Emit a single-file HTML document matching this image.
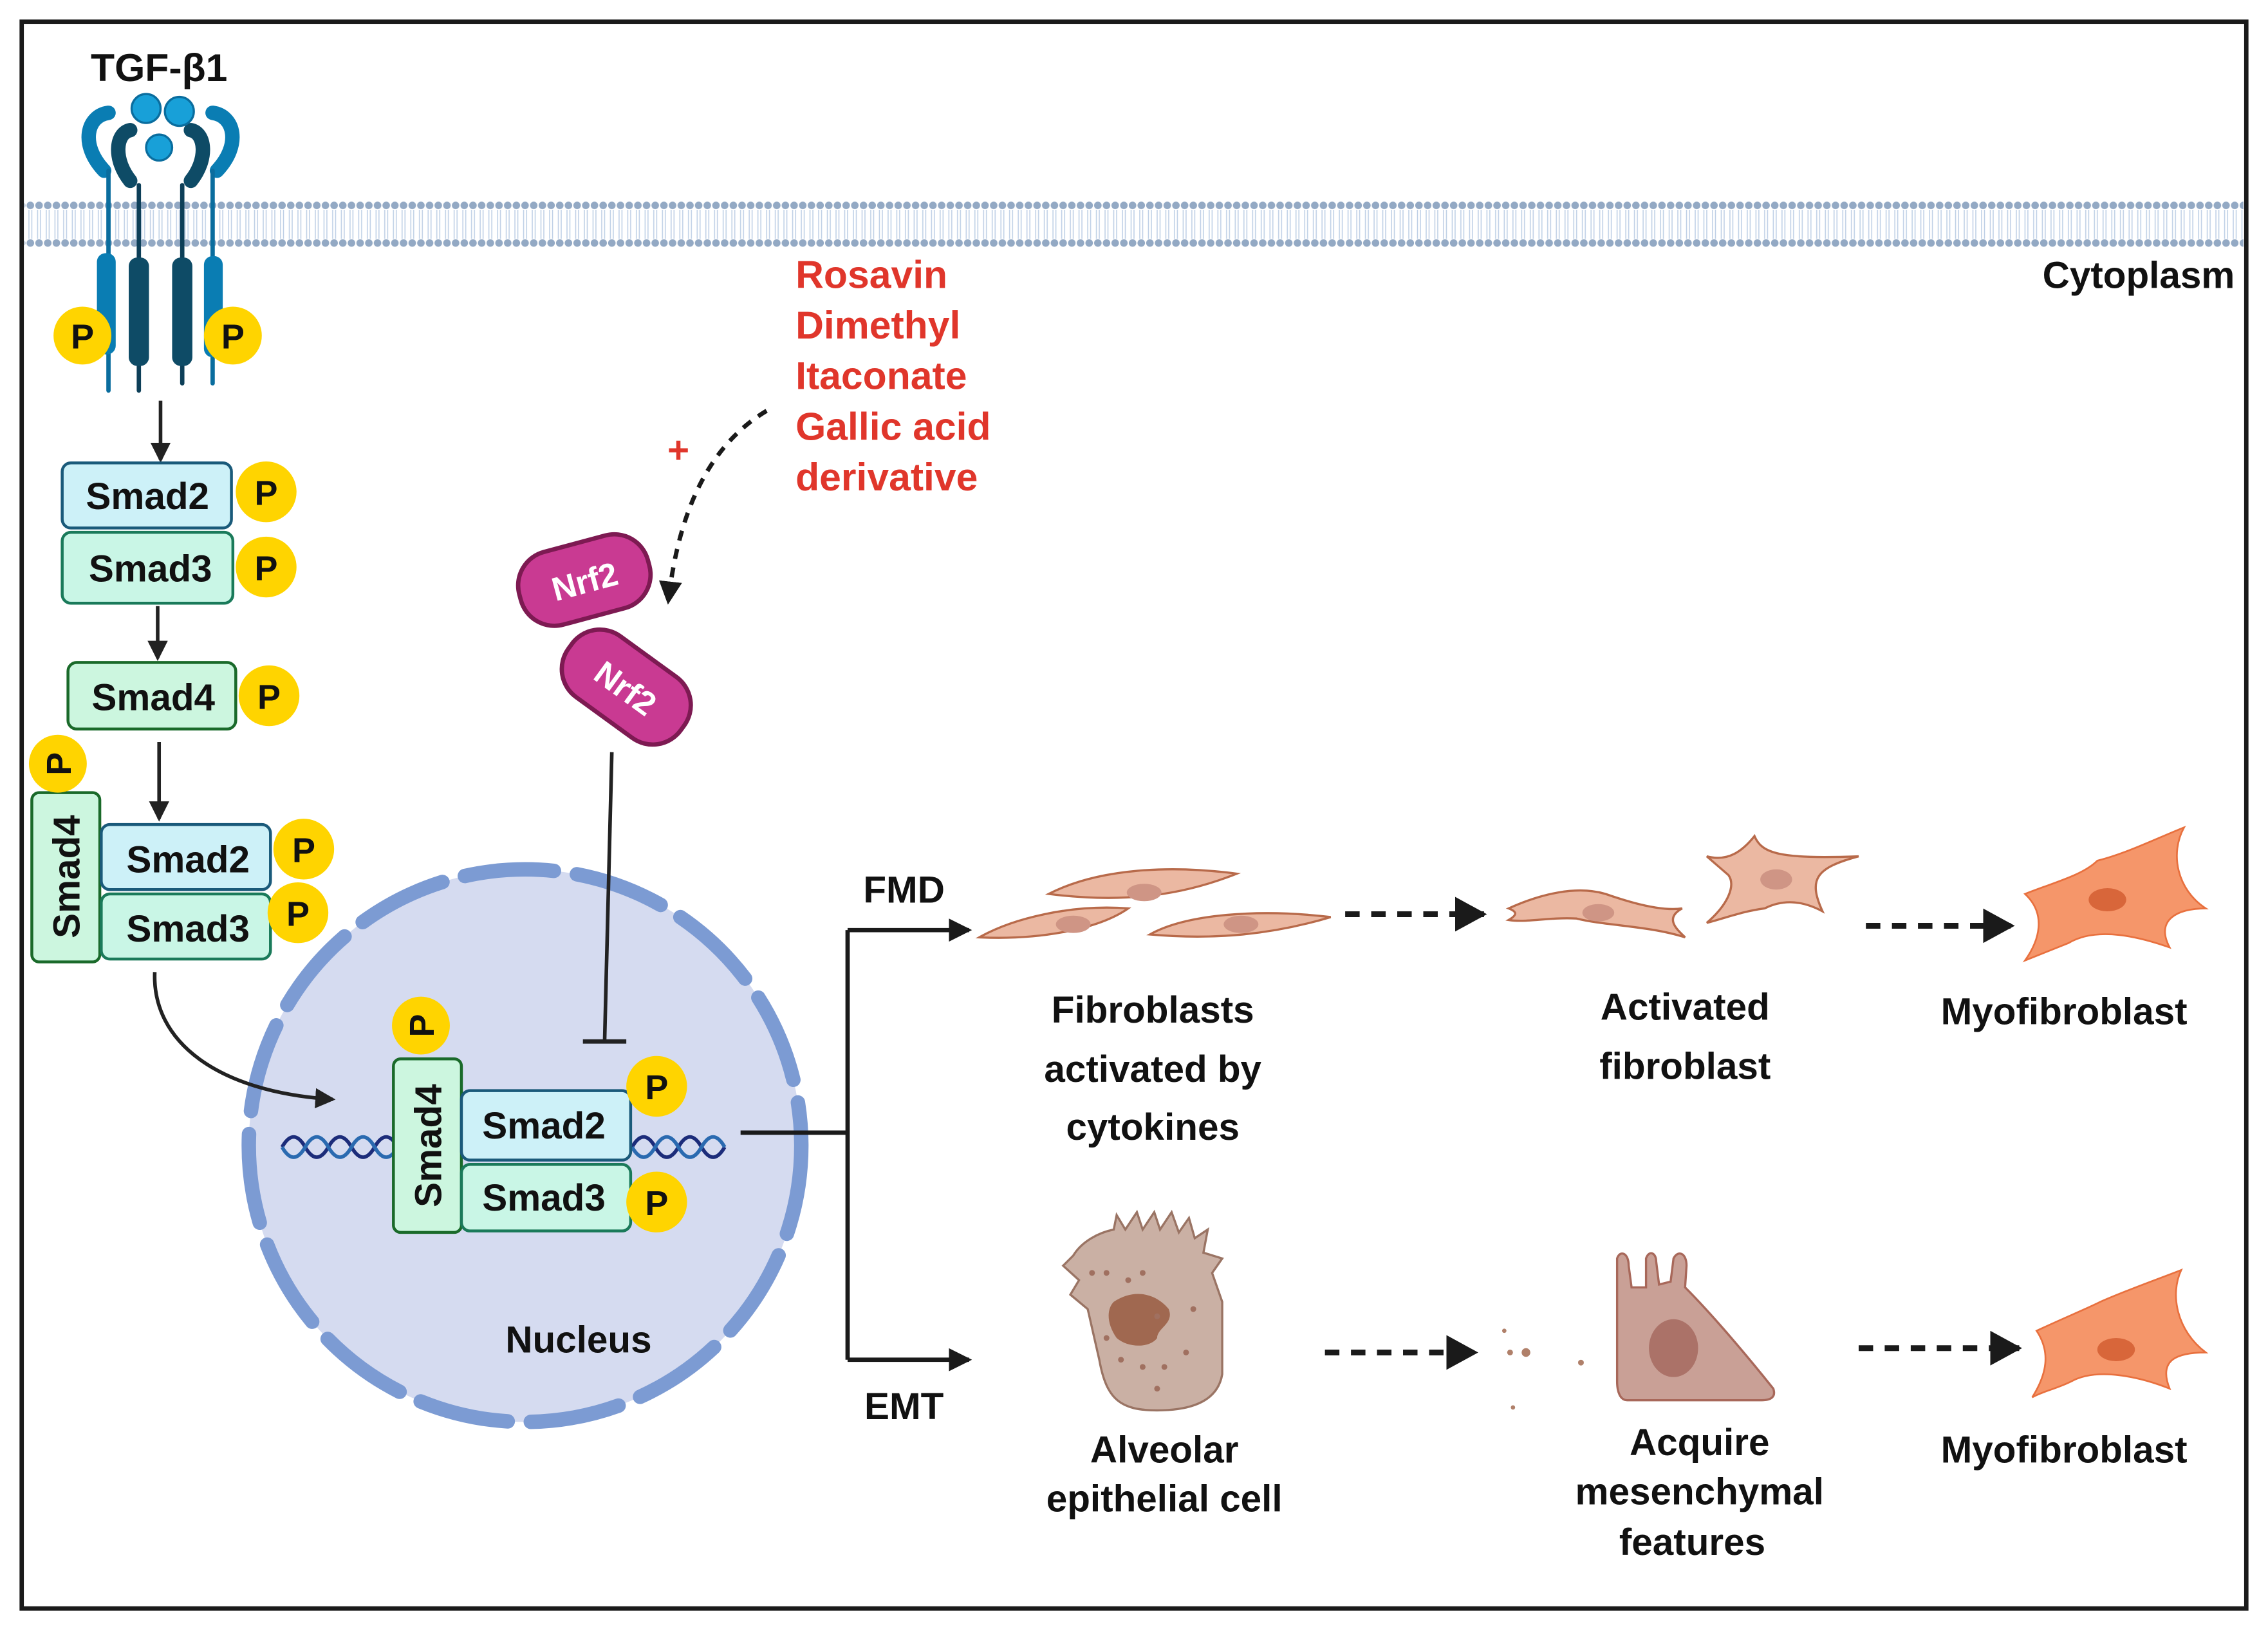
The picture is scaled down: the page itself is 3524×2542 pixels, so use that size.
<!DOCTYPE html>
<html><head><meta charset="utf-8"><style>
html,body{margin:0;padding:0;background:#fff;}
svg{display:block;}
text{font-family:"Liberation Sans",sans-serif;font-weight:bold;}
</style></head><body>
<svg width="3524" height="2542" viewBox="0 0 1568 1131" preserveAspectRatio="none" xmlns="http://www.w3.org/2000/svg">
<defs>
<pattern id="mem" x="0" y="139" width="6" height="32" patternUnits="userSpaceOnUse">
<circle cx="3" cy="3" r="2.6" fill="#93a9c4"/>
<circle cx="3" cy="29" r="2.6" fill="#93a9c4"/>
<path d="M2 6 L2 26 M4 6 L4 26" stroke="#bfd0e6" stroke-width="0.7"/>
</pattern>
<marker id="ah" markerWidth="14" markerHeight="14" refX="12" refY="7" orient="auto" markerUnits="userSpaceOnUse"><path d="M0 0 L14 7 L0 14 Z" fill="#222"/></marker>
<marker id="ahb" markerWidth="22" markerHeight="24" refX="20" refY="12" orient="auto" markerUnits="userSpaceOnUse"><path d="M0 0 L22 12 L0 24 Z" fill="#1a1a1a"/></marker>
<marker id="ahm" markerWidth="16" markerHeight="16" refX="14" refY="8" orient="auto" markerUnits="userSpaceOnUse"><path d="M0 0 L16 8 L0 16 Z" fill="#1a1a1a"/></marker>
</defs>
<rect x="0" y="0" width="1568" height="1131" fill="#fff"/>
<rect x="15" y="15" width="1538" height="1097" fill="none" stroke="#1a1a1a" stroke-width="3"/>
<!-- membrane -->
<rect x="17" y="139" width="1534" height="32" fill="url(#mem)"/>
<text x="1545" y="199" font-size="26" text-anchor="end" fill="#111">Cytoplasm</text>
<!-- receptor -->
<text x="110" y="56" font-size="27" text-anchor="middle" fill="#111">TGF-β1</text>
<g stroke-linecap="round" fill="none">
<path d="M72 118 C55 100 60 80 75 78" stroke="#0a7db3" stroke-width="10"/>
<path d="M150 118 C167 100 162 80 147 78" stroke="#0a7db3" stroke-width="10"/>
<path d="M90 125 C78 110 80 92 90 90" stroke="#0e4b66" stroke-width="10"/>
<path d="M132 125 C144 110 142 92 132 90" stroke="#0e4b66" stroke-width="10"/>
<path d="M75 118 L75 270" stroke="#0a6d9e" stroke-width="3"/>
<path d="M147 118 L147 265" stroke="#0a6d9e" stroke-width="3"/>
<path d="M96 128 L96 270" stroke="#0d3f58" stroke-width="3"/>
<path d="M126 128 L126 265" stroke="#0d3f58" stroke-width="3"/>
</g>
<rect x="67" y="175" width="13" height="70" rx="6" fill="#0a7db3"/>
<rect x="141" y="177" width="13" height="70" rx="6" fill="#0a7db3"/>
<rect x="89" y="178" width="14" height="75" rx="6" fill="#0e4b66"/>
<rect x="119" y="178" width="14" height="75" rx="6" fill="#0e4b66"/>
<circle cx="101" cy="75" r="10" fill="#18a0d8" stroke="#0a6d9e" stroke-width="1.5"/>
<circle cx="124" cy="77" r="10" fill="#18a0d8" stroke="#0a6d9e" stroke-width="1.5"/>
<circle cx="110" cy="102" r="9" fill="#18a0d8" stroke="#0a6d9e" stroke-width="1.5"/>
<g font-size="24" text-anchor="middle" fill="#111">
<circle cx="57" cy="232" r="20" fill="#ffd400"/><text x="57" y="241">P</text>
<circle cx="161" cy="232" r="20" fill="#ffd400"/><text x="161" y="241">P</text>
</g>
<!-- smad cascade -->
<line x1="111" y1="277" x2="111" y2="318" stroke="#222" stroke-width="2.5" marker-end="url(#ah)"/>
<line x1="109" y1="419" x2="109" y2="455" stroke="#222" stroke-width="2.5" marker-end="url(#ah)"/>
<line x1="110" y1="513" x2="110" y2="566" stroke="#222" stroke-width="2.5" marker-end="url(#ah)"/>
<g font-size="26" text-anchor="middle" fill="#111">
<rect x="43" y="320" width="117" height="45" rx="6" fill="#cdf1f8" stroke="#1a5a7a" stroke-width="2"/><text x="102" y="352">Smad2</text>
<rect x="43" y="368" width="118" height="49" rx="6" fill="#c9f6e6" stroke="#1a7a5a" stroke-width="2"/><text x="104" y="402">Smad3</text>
<rect x="47" y="458" width="116" height="46" rx="6" fill="#ccf6df" stroke="#1a6a2a" stroke-width="2"/><text x="106" y="491">Smad4</text>
<rect x="22" y="548" width="47" height="117" rx="5" fill="#ccf6df" stroke="#1a6a2a" stroke-width="2"/><text transform="translate(55,606) rotate(-90)">Smad4</text>
<rect x="70" y="570" width="117" height="45" rx="6" fill="#cdf1f8" stroke="#1a5a7a" stroke-width="2"/><text x="130" y="603">Smad2</text>
<rect x="70" y="618" width="117" height="45" rx="6" fill="#c9f6e6" stroke="#1a7a5a" stroke-width="2"/><text x="130" y="651">Smad3</text>
</g>
<g font-size="24" text-anchor="middle" fill="#111">
<circle cx="184" cy="340" r="21" fill="#ffd400"/><text x="184" y="349">P</text>
<circle cx="184" cy="392" r="21" fill="#ffd400"/><text x="184" y="401">P</text>
<circle cx="186" cy="481" r="21" fill="#ffd400"/><text x="186" y="490">P</text>
<circle cx="40" cy="528" r="20" fill="#ffd400"/><text transform="translate(49,528) rotate(-90)">P</text>
<circle cx="210" cy="587" r="21" fill="#ffd400"/><text x="210" y="596">P</text>
<circle cx="206" cy="631" r="21" fill="#ffd400"/><text x="206" y="640">P</text>
</g>
<!-- nucleus -->
<circle cx="363" cy="792" r="191" fill="#d5dbf0"/>
<circle cx="363" cy="792" r="191" fill="none" stroke="#7c9bd3" stroke-width="10" stroke-dasharray="62 16" stroke-linecap="round"/>
<path d="M107 672 C105 720 150 755 230 760" fill="none" stroke="#222" stroke-width="2.5" marker-end="url(#ah)"/>
<text x="400" y="935" font-size="26" text-anchor="middle" fill="#111">Nucleus</text>
<g fill="none" stroke-width="2.5">
<path d="M195 793 q8 -14 16 0 t16 0 t16 0 t16 0 t16 0 M437 793 q8 -14 16 0 t16 0 t16 0 t16 0" stroke="#1c2c7a"/>
<path d="M195 793 q8 14 16 0 t16 0 t16 0 t16 0 t16 0 M437 793 q8 14 16 0 t16 0 t16 0 t16 0" stroke="#2a6ab0"/>
</g>
<g font-size="26" text-anchor="middle" fill="#111">
<rect x="272" y="732" width="47" height="120" rx="5" fill="#ccf6df" stroke="#1a6a2a" stroke-width="2"/><text transform="translate(305,792) rotate(-90)">Smad4</text>
<rect x="319" y="754" width="117" height="48" rx="6" fill="#cdf1f8" stroke="#1a5a7a" stroke-width="2"/><text x="376" y="787">Smad2</text>
<rect x="319" y="805" width="117" height="46" rx="6" fill="#c9f6e6" stroke="#1a7a5a" stroke-width="2"/><text x="376" y="837">Smad3</text>
</g>
<g font-size="24" text-anchor="middle" fill="#111">
<circle cx="291" cy="709" r="20" fill="#ffd400"/><text transform="translate(300,709) rotate(-90)">P</text>
<circle cx="454" cy="751" r="21" fill="#ffd400"/><text x="454" y="760">P</text>
<circle cx="454" cy="831" r="21" fill="#ffd400"/><text x="454" y="840">P</text>
</g>
<!-- Nrf2 -->
<text x="550" y="199" font-size="27" fill="#e0362b">Rosavin</text>
<text x="550" y="234" font-size="27" fill="#e0362b">Dimethyl</text>
<text x="550" y="269" font-size="27" fill="#e0362b">Itaconate</text>
<text x="550" y="304" font-size="27" fill="#e0362b">Gallic acid</text>
<text x="550" y="339" font-size="27" fill="#e0362b">derivative</text>
<text x="469" y="320" font-size="26" text-anchor="middle" fill="#e0362b" font-weight="normal">+</text>
<path d="M530 284 C495 305 470 345 462 416" fill="none" stroke="#1a1a1a" stroke-width="3" stroke-dasharray="7 6" marker-end="url(#ahm)"/>
<g transform="translate(404,401) rotate(-15)"><rect x="-46" y="-26" width="92" height="52" rx="24" fill="#c93a92" stroke="#7d1a52" stroke-width="3"/><text x="0" y="9" font-size="23" text-anchor="middle" fill="#fff">Nrf2</text></g>
<g transform="translate(433,475) rotate(36)"><rect x="-48" y="-26" width="96" height="52" rx="24" fill="#c93a92" stroke="#7d1a52" stroke-width="3"/><text x="0" y="9" font-size="23" text-anchor="middle" fill="#fff">Nrf2</text></g>
<line x1="423" y1="520" x2="418" y2="720" stroke="#222" stroke-width="2.5"/>
<line x1="403" y1="720" x2="433" y2="720" stroke="#222" stroke-width="3"/>
<!-- branch -->
<path d="M512 783 L586 783 M586 643 L586 940" stroke="#1a1a1a" stroke-width="3" fill="none"/>
<line x1="586" y1="643" x2="670" y2="643" stroke="#1a1a1a" stroke-width="3" marker-end="url(#ahm)"/>
<line x1="586" y1="940" x2="670" y2="940" stroke="#1a1a1a" stroke-width="3" marker-end="url(#ahm)"/>
<text x="625" y="624" font-size="26" text-anchor="middle" fill="#111">FMD</text>
<text x="625" y="981" font-size="26" text-anchor="middle" fill="#111">EMT</text>
<!-- dotted arrows -->
<g stroke="#1a1a1a" stroke-width="4" stroke-dasharray="10 8" fill="none">
<line x1="930" y1="632" x2="1026" y2="632" marker-end="url(#ahb)"/>
<line x1="1290" y1="640" x2="1391" y2="640" marker-end="url(#ahb)"/>
<line x1="916" y1="935" x2="1020" y2="935" marker-end="url(#ahb)"/>
<line x1="1285" y1="932" x2="1396" y2="932" marker-end="url(#ahb)"/>
</g>
<!-- fibroblasts -->
<g fill="#ebb8a2" stroke="#b86a4a" stroke-width="1.5">
<path d="M725 618 C760 600 810 598 855 604 C820 618 780 625 725 618 Z"/>
<path d="M677 648 C700 635 740 625 780 628 C760 642 720 650 677 648 Z"/>
<path d="M795 646 C820 632 870 628 920 634 C880 646 840 650 795 646 Z"/>
<path d="M1043 628 C1065 618 1090 612 1110 618 C1130 625 1150 630 1163 628 C1150 635 1160 643 1165 648 C1140 640 1110 640 1090 635 C1070 634 1055 638 1043 636 C1050 632 1048 630 1043 628 Z"/>
<path d="M1180 592 C1195 596 1205 588 1213 578 C1218 590 1230 594 1285 592 C1255 600 1250 608 1260 630 C1245 622 1232 622 1220 628 C1205 630 1195 634 1180 638 C1195 625 1200 612 1195 605 Z"/>
</g>
<g fill="#cf9585">
<ellipse cx="791" cy="617" rx="12" ry="6"/><ellipse cx="742" cy="639" rx="12" ry="6"/><ellipse cx="858" cy="639" rx="12" ry="6"/>
<ellipse cx="1105" cy="631" rx="11" ry="6"/><ellipse cx="1228" cy="608" rx="11" ry="7"/>
</g>
<!-- myofibroblasts -->
<g fill="#f5966a" stroke="#e8703e" stroke-width="1.2">
<path d="M1400 618 C1420 610 1440 605 1450 595 C1470 590 1490 580 1510 572 C1500 590 1505 615 1525 628 C1505 628 1490 636 1500 655 C1480 648 1450 640 1430 652 C1420 656 1410 660 1400 664 C1410 650 1415 632 1400 618 Z"/>
<path d="M1408 920 C1425 912 1442 905 1452 900 C1470 892 1490 885 1508 878 C1500 895 1505 920 1525 935 C1505 935 1492 940 1500 960 C1480 952 1450 945 1432 955 C1422 960 1412 962 1405 966 C1415 950 1418 935 1408 920 Z"/>
</g>
<ellipse cx="1457" cy="622" rx="13" ry="8" fill="#d8663a"/>
<ellipse cx="1463" cy="933" rx="13" ry="8" fill="#d8663a"/>
<!-- alveolar cell -->
<path d="M742 868 C748 858 760 852 770 850 L772 840 L778 850 L786 838 L790 850 L798 838 L802 850 L810 838 L815 852 L822 842 L826 856 L835 850 L832 866 L845 870 L838 880 L845 900 L845 950 C842 968 825 975 800 975 C775 975 765 968 760 940 L752 905 L740 895 L746 885 L735 875 Z" fill="#cab0a4" stroke="#9a7464" stroke-width="1.5"/>
<path d="M770 900 C785 890 800 895 808 905 C812 915 800 918 800 925 C795 932 780 932 772 925 C765 915 765 905 770 900 Z" fill="#a06850"/>
<g fill="#a07060"><circle cx="755" cy="880" r="2"/><circle cx="765" cy="880" r="2"/><circle cx="780" cy="885" r="2"/><circle cx="790" cy="880" r="2"/><circle cx="800" cy="910" r="2"/><circle cx="790" cy="945" r="2"/><circle cx="775" cy="940" r="2"/><circle cx="805" cy="945" r="2"/><circle cx="820" cy="935" r="2"/><circle cx="765" cy="925" r="2"/><circle cx="825" cy="905" r="2"/><circle cx="800" cy="960" r="2"/></g>
<g fill="#b0806a"><circle cx="1044" cy="935" r="2"/><circle cx="1055" cy="935" r="3"/><circle cx="1093" cy="942" r="2"/><circle cx="1046" cy="973" r="1.5"/><circle cx="1040" cy="920" r="1.5"/></g>
<!-- mesenchymal cell -->
<path d="M1118 885 L1118 870 C1120 864 1126 866 1126 875 L1128 890 L1138 890 L1138 870 C1140 864 1145 866 1145 872 L1147 888 L1155 886 L1157 870 C1160 864 1166 866 1166 875 L1165 890 C1185 910 1210 940 1226 960 C1228 966 1224 968 1218 968 L1125 968 C1120 968 1118 962 1118 955 Z" fill="#c9a096" stroke="#a8685a" stroke-width="1.5"/>
<ellipse cx="1157" cy="932" rx="17" ry="20" fill="#ab7268"/>
<!-- labels -->
<g font-size="26" text-anchor="middle" fill="#111">
<text x="797" y="707">Fibroblasts</text>
<text x="797" y="748">activated by</text>
<text x="797" y="788">cytokines</text>
<text x="1165" y="705">Activated</text>
<text x="1165" y="746">fibroblast</text>
<text x="1427" y="708">Myofibroblast</text>
<text x="1427" y="1011">Myofibroblast</text>
<text x="805" y="1011">Alveolar</text>
<text x="805" y="1045">epithelial cell</text>
<text x="1175" y="1006">Acquire</text>
<text x="1175" y="1040">mesenchymal</text>
<text x="1170" y="1075">features</text>
</g>
</svg>
</body></html>
